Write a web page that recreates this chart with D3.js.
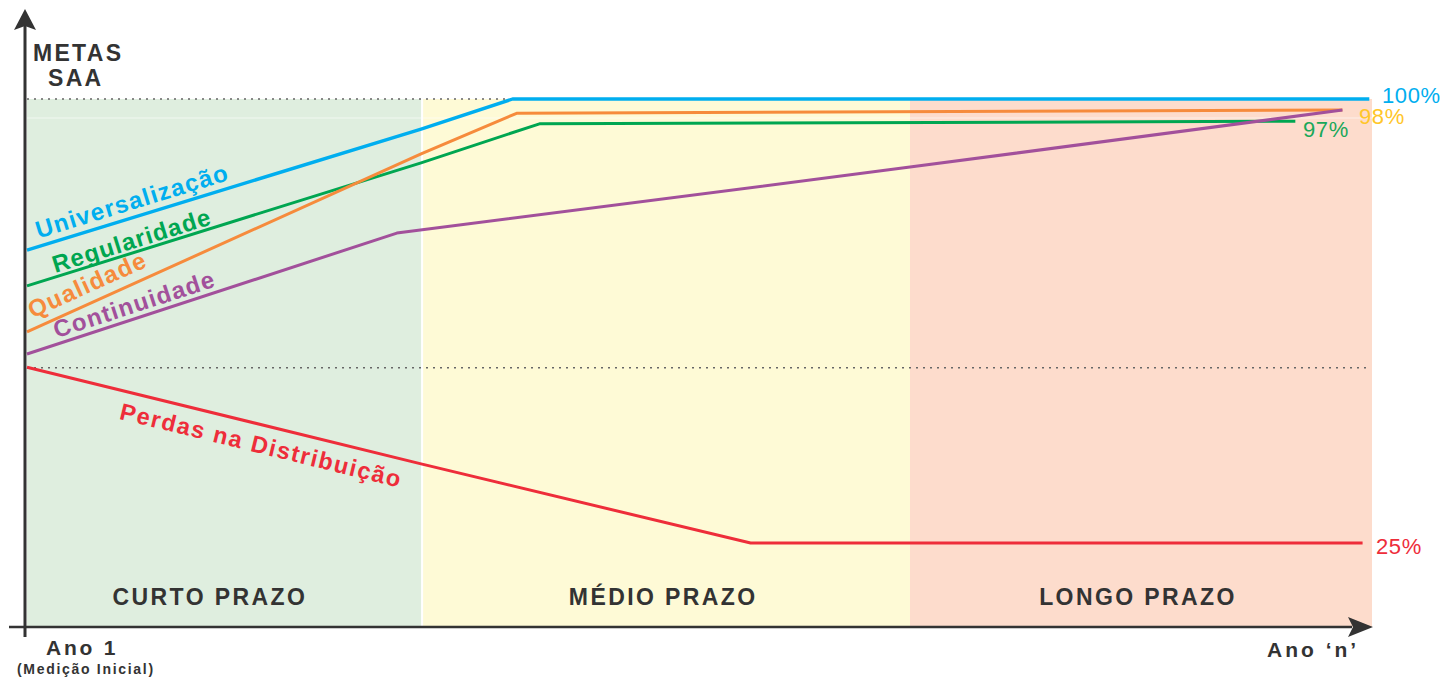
<!DOCTYPE html>
<html>
<head>
<meta charset="utf-8">
<script src="https://cdn.jsdelivr.net/npm/d3@7"></script>
<style>
  html, body { margin: 0; padding: 0; background: white; }
</style>
</head>
<body>
<script>
const POLICE = '"Liberation Sans", Arial, Helvetica, sans-serif'
const TEXTE = '#333333'

// Échelle conceptuelle : t = temps (0 = Ano 1, 100 = Ano n), v = nível da meta
const zonas = [
  { nome: 'CURTO PRAZO', de: 0, ate: 29.3, cor: '#dfeedf' },
  { nome: 'MÉDIO PRAZO', de: 29.45, ate: 65.65, cor: '#fefad6' },
  { nome: 'LONGO PRAZO', de: 65.65, ate: 100, cor: '#fddccc' }
]

const universalizacao = [[0, 71.4], [29.3, 94.3], [36.1, 100], [99.8, 100]]
const regularidade = [[0, 64.6], [29.3, 87.9], [38.1, 95.3], [94.3, 95.8]]
const qualidade = [[0, 55.9], [29.3, 89.6], [36.4, 97.3], [97.8, 97.9]]
const continuidade = [[0, 51.7], [27.5, 74.6], [65.65, 87.1], [97.8, 97.9]]
const perdas = [[0, 49.2], [29.3, 30.9], [53.8, 15.9], [99.3, 15.9]]

const series = [
  { nome: 'Universalização', dados: universalizacao, cor: '#00aeef', largura: 3.4 },
  { nome: 'Regularidade', dados: regularidade, cor: '#00a651', largura: 3 },
  { nome: 'Qualidade', dados: qualidade, cor: '#f68b3c', largura: 3 },
  { nome: 'Continuidade', dados: continuidade, cor: '#a2509b', largura: 3 },
  { nome: 'Perdas na Distribuição', dados: perdas, cor: '#ee2d3a', largura: 3 }
]

const linhasPontilhadas = [100, 49.1]
const rotulosFinais = [
  { texto: '100%', cor: '#00aeef' },
  { texto: '98%', cor: '#ffc629' },
  { texto: '97%', cor: '#1aa85a' },
  { texto: '25%', cor: '#ee2d3a' }
]

const width = 1449, height = 679
const x = d3.scaleLinear().domain([0, 100]).range([27, 1372])
const y = d3.scaleLinear().domain([0, 100]).range([627, 99])

const svg = d3.select('body').append('svg')
  .attr('width', width).attr('height', height)
  .style('font-family', POLICE)

// Zonas de prazo
svg.selectAll('rect.zona').data(zonas).join('rect')
  .attr('class', 'zona')
  .attr('x', d => x(d.de)).attr('width', d => x(d.ate) - x(d.de))
  .attr('y', y(100)).attr('height', y(0) - y(100))
  .attr('fill', d => d.cor)

// fina linha clara
svg.append('line')
  .attr('x1', x(0)).attr('x2', x(100)).attr('y1', y(96.4)).attr('y2', y(96.4))
  .attr('stroke', 'white').attr('stroke-opacity', 0.6).attr('stroke-width', 1)

svg.selectAll('line.pont').data(linhasPontilhadas).join('line')
  .attr('class', 'pont')
  .attr('x1', x(0)).attr('x2', x(99.8))
  .attr('y1', d => y(d)).attr('y2', d => y(d))
  .attr('stroke', '#666').attr('stroke-width', 1.4).attr('stroke-dasharray', '2,5')

// Nomes das zonas
const posZona = [13.6, 47.3, 82.6]
svg.selectAll('text.zona').data(zonas).join('text')
  .attr('class', 'zona')
  .attr('x', (d, i) => x(posZona[i])).attr('y', 605)
  .attr('text-anchor', 'middle')
  .attr('font-size', 23).attr('font-weight', 'bold').attr('letter-spacing', 2.4)
  .attr('fill', TEXTE).text(d => d.nome)

// Linhas
const linha = d3.line().x(d => x(d[0])).y(d => y(d[1]))
svg.selectAll('path.serie').data(series).join('path')
  .attr('class', 'serie')
  .attr('d', d => linha(d.dados))
  .attr('fill', 'none').attr('stroke', d => d.cor).attr('stroke-width', d => d.largura)
  .attr('stroke-linejoin', 'round')

// Nomes das séries ao longo das linhas
const posNomes = [
  { t: 0.85, desloc: 8, tam: 24, esp: 1.3 },
  { t: 2.1, desloc: 4, tam: 24, esp: 1.1 },
  { t: 0.4, desloc: 11, tam: 24, esp: 1.3 },
  { t: 2.2, desloc: 6, tam: 24, esp: 1.3 },
  { t: 6.8, desloc: -29, tam: 23.5, esp: 1.6 }
]
series.forEach((s, i) => {
  const p = posNomes[i]
  const a = s.dados[0], b = s.dados[1]
  const px0 = x(a[0]), py0 = y(a[1]), px1 = x(b[0]), py1 = y(b[1])
  const ang = Math.atan2(py1 - py0, px1 - px0) * 180 / Math.PI
  const px = x(p.t)
  const py = py0 + (py1 - py0) * (px - px0) / (px1 - px0) - p.desloc
  svg.append('text')
    .attr('transform', `translate(${px},${py}) rotate(${ang})`)
    .attr('font-size', p.tam).attr('font-weight', 'bold').attr('letter-spacing', p.esp)
    .attr('fill', s.cor).text(s.nome)
})

// Valores finais
const posFinais = [[1382, 103], [1359, 124], [1303, 137], [1376, 554]]
svg.selectAll('text.final').data(rotulosFinais).join('text')
  .attr('class', 'final')
  .attr('x', (d, i) => posFinais[i][0]).attr('y', (d, i) => posFinais[i][1])
  .attr('font-size', 22).attr('letter-spacing', 0.6).attr('fill', d => d.cor)
  .text(d => d.texto)

// Eixos
svg.append('line').attr('x1', 25).attr('x2', 25).attr('y1', 26).attr('y2', 637)
  .attr('stroke', TEXTE).attr('stroke-width', 3)
svg.append('path').attr('d', 'M25,9 L36,30 L25,26 L14,30 Z').attr('fill', TEXTE)
svg.append('line').attr('x1', 9).attr('x2', 1352).attr('y1', 627).attr('y2', 627)
  .attr('stroke', TEXTE).attr('stroke-width', 2.5)
svg.append('path').attr('d', 'M1373,627 L1348,617 L1353,627 L1348,637 Z').attr('fill', TEXTE)

// Títulos dos eixos
svg.append('text').attr('x', 33).attr('y', 61)
  .attr('font-size', 23).attr('font-weight', 'bold').attr('letter-spacing', 2.3)
  .attr('fill', TEXTE).text('METAS')
svg.append('text').attr('x', 48).attr('y', 86)
  .attr('font-size', 23).attr('font-weight', 'bold').attr('letter-spacing', 2.3)
  .attr('fill', TEXTE).text('SAA')
svg.append('text').attr('x', 46).attr('y', 655)
  .attr('font-size', 21).attr('font-weight', 'bold').attr('letter-spacing', 2.8)
  .attr('fill', TEXTE).text('Ano 1')
svg.append('text').attr('x', 17).attr('y', 674)
  .attr('font-size', 14).attr('font-weight', 'bold').attr('letter-spacing', 1.7)
  .attr('fill', TEXTE).text('(Medição Inicial)')
svg.append('text').attr('x', 1267).attr('y', 657)
  .attr('font-size', 21).attr('font-weight', 'bold').attr('letter-spacing', 3)
  .attr('fill', TEXTE).text('Ano ‘n’')
</script>
</body>
</html>
